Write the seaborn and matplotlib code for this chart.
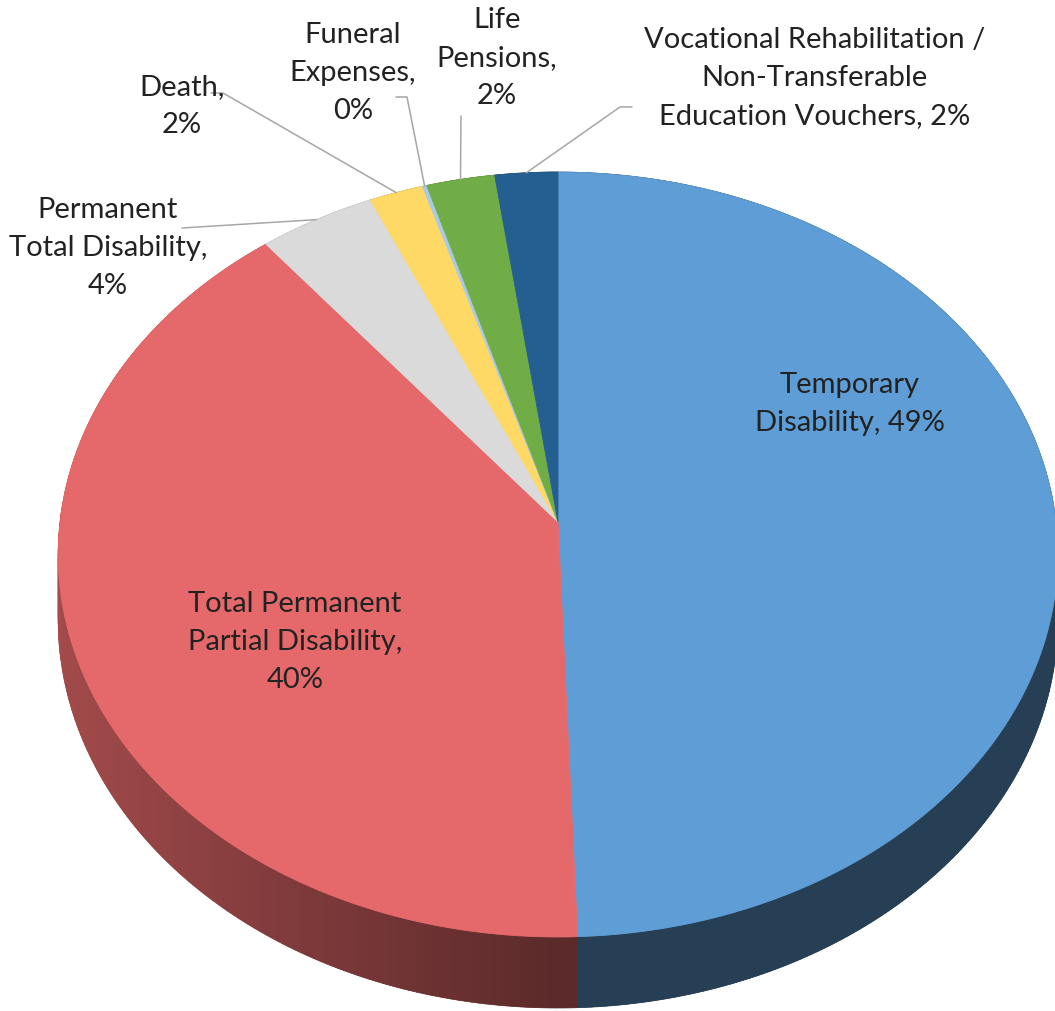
import numpy as np
import matplotlib
matplotlib.use('Agg')
import matplotlib.pyplot as plt
import matplotlib.transforms as mtransforms
from matplotlib.path import Path
from matplotlib.colors import to_rgb
import seaborn as sns

# data, clockwise from 12 o'clock
categories = ['Temporary Disability', 'Total Permanent Partial Disability',
              'Permanent Total Disability', 'Death', 'Funeral Expenses',
              'Life Pensions',
              'Vocational Rehabilitation / Non-Transferable Education Vouchers']
shares = [49.4, 39.8, 4.1, 1.9, 0.15, 2.4, 2.2]
labels = ['Temporary\nDisability, 49%',
          'Total Permanent\nPartial Disability,\n40%',
          'Permanent\nTotal Disability,\n4%',
          'Death,\n2%',
          'Funeral\nExpenses,\n0%',
          'Life\nPensions,\n2%',
          'Vocational Rehabilitation /\nNon-Transferable\nEducation Vouchers, 2%']
colors = ['#5E9DD5', '#E5696A', '#DADADA', '#FFD966', '#A9C9E8', '#70AD47', '#255E91']

# label placement (pixel centre of each text block) and leader-line starts
label_pos = [(850, 404), (295, 642), (108, 248), (182, 106), (353, 73), (497, 58), (815, 78)]
leader_start = [None, None, [(182, 228)], [(211, 93), (223, 93)], [(396, 97), (407, 97)],
                [(461, 116)], [(632, 107), (620, 107)]]

W, H = 1055, 1011
CX, CY = 558, 522          # where the slices meet
A, B, P = 498, 379.7, 0.085  # half width, half height, perspective
DEPTH = 65


class Tilt(mtransforms.Transform):
    """unit-circle pie -> tilted disc seen in perspective (pixel coords)"""
    input_dims = output_dims = 2

    def __init__(self, h=0.0):
        super().__init__()
        self.h = h

    def transform_non_affine(self, xy):
        xy = np.asarray(xy, float).reshape(-1, 2)
        w = 1 + P * xy[:, 1]
        return np.column_stack([CX + A * xy[:, 0] / w,
                                CY + (-B * xy[:, 1] + DEPTH * self.h) / w])

    def transform_path_non_affine(self, path):
        t = np.linspace(0, 1, 30)
        pts = np.vstack([seg(t) for seg, code in path.iter_bezier()])
        return Path(self.transform_non_affine(pts), closed=True)


def shade_of(a):
    # lighter on the left flank, dark at the front and right
    return 0.40 + 0.32 * np.clip(-np.cos(a), 0, 1)


sns.set_style('white')
plt.rcParams['font.family'] = ['Lato', 'DejaVu Sans']

fig = plt.figure(figsize=(W / 100, H / 100), dpi=100)
ax = fig.add_axes([0, 0, 1, 1])

wedges, _ = ax.pie(shares, startangle=90, counterclock=False, colors=colors,
                   wedgeprops=dict(linewidth=0.6))
top = Tilt(0.0)
bottom = Tilt(1.0)
for w, c in zip(wedges, colors):
    w.set_edgecolor(c)
    w.set_transform(top + ax.transData)
    w.set_zorder(3)

# side wall: one solid band per slice, then thin gradient strips on top
quads = []
for w, c in zip(wedges, colors):
    n = max(2, int(np.ceil((w.theta2 - w.theta1) / 0.75)))
    angs = np.radians(np.linspace(w.theta1, w.theta2, n + 1))
    unit = np.column_stack([np.cos(angs), np.sin(angs)])
    band = np.vstack([top.transform(unit), bottom.transform(unit[::-1])])
    base = tuple(np.array(to_rgb(c)) * shade_of(angs.mean()))
    ax.fill(band[:, 0], band[:, 1], color=base, lw=0, zorder=1)
    for i in range(n):
        u = unit[i:i + 2]
        poly = np.vstack([top.transform(u), bottom.transform(u[::-1])])
        am = 0.5 * (angs[i] + angs[i + 1])
        col = tuple(np.array(to_rgb(c)) * shade_of(am))
        quads.append((np.sin(am), poly, col))
for _, poly, col in sorted(quads, key=lambda q: -q[0]):
    ax.fill(poly[:, 0], poly[:, 1], color=col, lw=0.5, zorder=2)

# labels and leader lines
mids = [np.radians(0.5 * (w.theta1 + w.theta2)) for w in wedges]
for lab, pos, start, m in zip(labels, label_pos, leader_start, mids):
    ax.text(pos[0], pos[1], lab, ha='center', va='center', multialignment='center',
            fontsize=21, color='#222222', linespacing=1.56, zorder=5)
    if start is not None:
        rim = top.transform([[np.cos(m), np.sin(m)]])[0]
        pts = np.array(start + [tuple(rim)])
        ax.plot(pts[:, 0], pts[:, 1], color='#A6A6A6', lw=1.1, zorder=4)

ax.set_aspect('auto')
ax.set_xlim(0, W)
ax.set_ylim(H, 0)
ax.axis('off')
fig.savefig('out.png', dpi=100, facecolor='white')
